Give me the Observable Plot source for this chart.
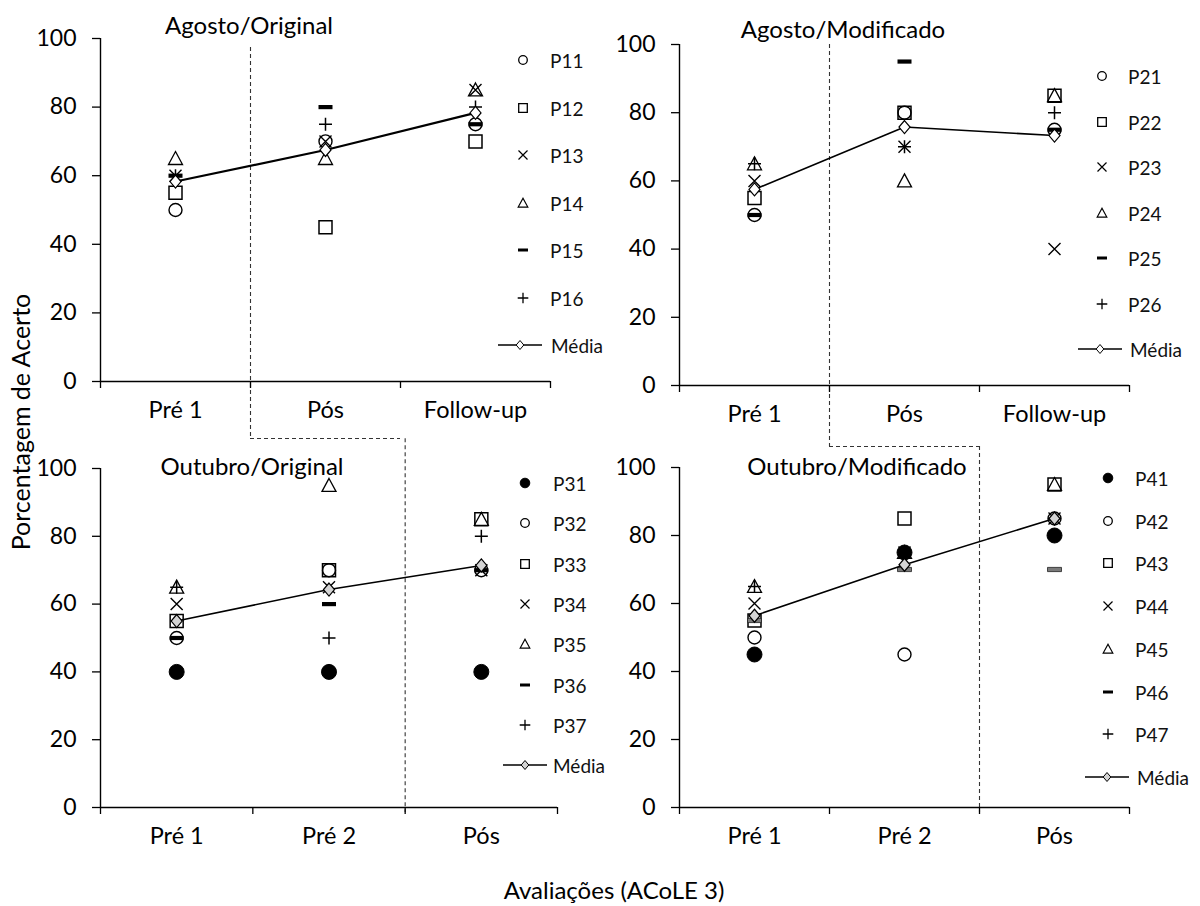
<!DOCTYPE html>
<html><head><meta charset="utf-8">
<script src="https://cdn.jsdelivr.net/npm/d3@7"></script>
<script src="https://cdn.jsdelivr.net/npm/@observablehq/plot@0.6"></script>
<style>
body{margin:0;background:#fff;}
#chart{position:relative;width:1200px;height:906px;background:#fff;font-family:Lato,"Open Sans",sans-serif;color:#000;overflow:hidden}
.panel{position:absolute}
.title{position:absolute;font-size:24px;white-space:nowrap;transform:translate(-50%,-50%);line-height:1}
.legtxt{position:absolute;font-size:19px;white-space:nowrap;line-height:1;transform:translateY(-50%);color:#111}
.axtitle{position:absolute;font-size:24px;white-space:nowrap;line-height:1;transform:translate(-50%,-50%)}
</style></head><body><div id="chart"></div>
<script>
// ---------------- DATA ----------------
const agostoCats = ["Pré 1", "Pós", "Follow-up"];
const outubroCats = ["Pré 1", "Pré 2", "Pós"];
const yTicks = [0, 20, 40, 60, 80, 100];

const agostoOriginal = {P11:[50,70,75], P12:[55,45,70], P13:[60,70,85], P14:[65,65,85], P15:[60,80,75], P16:[60,75,80]};
const agostoOriginalMedia = [58.3, 67.5, 78.3];

const agostoModificado = {P21:[50,80,75], P22:[55,80,85], P23:[60,70,40], P24:[65,60,85], P25:[50,95,75], P26:[65,70,80]};
const agostoModificadoMedia = [57.5, 75.8, 73.3];

const outubroOriginal = {P31:[40,40,40], P32:[50,70,70], P33:[55,70,85], P34:[60,65,70], P35:[65,95,85], P36:[50,60,70], P37:[65,50,80]};
const outubroOriginalMedia = [55.0, 64.3, 71.4];

const outubroModificado = {P41:[45,75,80], P42:[50,45,85], P43:[55,85,95], P44:[60,75,85], P45:[65,75,95], P46:[55,70,70], P47:[65,75,85]};
const outubroModificadoMedia = [56.4, 71.4, 85.0];

const agostoKinds = ["circle","square","times","triangle","dash","plus"];
const outubroKinds = ["filled","circle","square","times","triangle","dash","plus"];

// phase-change line (between categories), extended beyond the panel
const phaseAgostoOriginal = {x: 0.5, yTop: 97.4, yBottom: -16.6, xEnd: 1.5};
const phaseOutubroOriginal = {x: 1.5, yTop: 108.8, yBottom: -1.5};
const phaseAgostoModificado = {x: 0.5, yTop: 100, yBottom: -17.9, xEnd: 1.5};
const phaseOutubroModificado = {x: 1.5, yTop: 106.2, yBottom: -1.5};

// ---------------- SYMBOLS ----------------
const R = s => Math.sqrt(s / Math.PI);
const sym = {
  circle: {draw(c, s){const r=R(s); c.moveTo(r,0); c.arc(0,0,r,0,2*Math.PI);}},
  square: {draw(c, s){const r=R(s); c.rect(-r,-r,2*r,2*r);}},
  times: {draw(c, s){const r=R(s); c.moveTo(-r,-r); c.lineTo(r,r); c.moveTo(-r,r); c.lineTo(r,-r);}},
  triangle: {draw(c, s){const r=R(s); c.moveTo(0,-r); c.lineTo(r,r*0.85); c.lineTo(-r,r*0.85); c.closePath();}},
  dash: {draw(c, s){const r=R(s), h=r*0.3; c.rect(-r,-h,2*r,2*h);}},
  plus: {draw(c, s){const r=R(s); c.moveTo(-r,0); c.lineTo(r,0); c.moveTo(0,-r); c.lineTo(0,r);}},
  diamond: {draw(c, s){const r=R(s); c.moveTo(0,-r); c.lineTo(r*0.85,0); c.lineTo(0,r); c.lineTo(-r*0.85,0); c.closePath();}}
};
const kindStyle = {
  filled:   {symbol: sym.circle,   r: 7.5, fill: "#000", stroke: "#000", strokeWidth: 1},
  circle:   {symbol: sym.circle,   r: 6.5, fill: "none", stroke: "#000", strokeWidth: 1.4},
  square:   {symbol: sym.square,   r: 6.5, fill: "none", stroke: "#000", strokeWidth: 1.5},
  times:    {symbol: sym.times,    r: 6,   fill: "none", stroke: "#000", strokeWidth: 1.4},
  triangle: {symbol: sym.triangle, r: 7,   fill: "none", stroke: "#000", strokeWidth: 1.3},
  dash:     {symbol: sym.dash,     r: 7,   fill: "#000", stroke: "none", strokeWidth: 0},
  plus:     {symbol: sym.plus,     r: 6.5, fill: "none", stroke: "#000", strokeWidth: 1.5}
};
const legendStyle = {
  filled: {r: 4.8, fill: "#000", stroke: "#000", sw: 1},
  circle: {r: 4.3, fill: "none", stroke: "#000", sw: 1.3},
  square: {r: 4.3, fill: "none", stroke: "#000", sw: 1.3},
  times: {r: 4.5, fill: "none", stroke: "#000", sw: 1.2},
  triangle: {r: 4.8, fill: "none", stroke: "#000", sw: 1.2},
  dash: {r: 5, fill: "#000", stroke: "none", sw: 0},
  plus: {r: 5.3, fill: "none", stroke: "#000", sw: 1.3}
};
function symPath(s, r){ const p = d3.path(); s.draw(p, r*r*Math.PI); return p.toString(); }

// ---------------- PANELS ----------------
const panels = [
  {cats: agostoCats, series: agostoOriginal, kinds: agostoKinds, media: agostoOriginalMedia, mediaFill: "#fff", meanW: 2.2,
   phase: phaseAgostoOriginal, left: 0, top: 0, plotH: 343, rangeW: 450,
   title: "Agosto/Original", tx: 249, ty: 25,
   leg: {symX: 523, textX: 550, y0: 60, step: 47.5, mX: 520, mText: 551}},
  {cats: agostoCats, series: agostoModificado, kinds: agostoKinds, media: agostoModificadoMedia, mediaFill: "#fff", meanW: 1.6,
   phase: phaseAgostoModificado, left: 579, top: 6, plotH: 341, rangeW: 450,
   title: "Agosto/Modificado", tx: 843, ty: 29,
   leg: {symX: 1102, textX: 1128, y0: 76, step: 45.5, mX: 1100, mText: 1130}},
  {cats: outubroCats, series: outubroOriginal, kinds: outubroKinds, media: outubroOriginalMedia, mediaFill: "#d4d4d4", meanW: 1.6,
   phase: phaseOutubroOriginal, left: 0, top: 430, plotH: 339, rangeW: 457,
   title: "Outubro/Original", tx: 252, ty: 466,
   leg: {symX: 525, textX: 553, y0: 483, step: 40.3, mX: 525, mText: 553}},
  {cats: outubroCats, series: outubroModificado, kinds: outubroKinds, media: outubroModificadoMedia, mediaFill: "#d4d4d4", meanW: 1.6,
   phase: phaseOutubroModificado, left: 579, top: 429, plotH: 340, rangeW: 450, dashFill: "#7a7a7a",
   title: "Outubro/Modificado", tx: 857, ty: 466,
   leg: {symX: 1108, textX: 1135, y0: 478, step: 42.7, mX: 1107, mText: 1137}}
];

const chart = document.getElementById("chart");
const mL = 100, mT = 38, mB = 72;

panels.forEach(p => {
  const names = Object.keys(p.series);
  const dotMarks = names.map((name, k) => {
    const st = kindStyle[p.kinds[k]];
    const rows = p.series[name].map((v, i) => ({i, v, serie: name}));
    let fill = st.fill, stroke = st.stroke, sw = st.strokeWidth;
    if (p.kinds[k] === "dash" && p.dashFill) { fill = p.dashFill; stroke = "#222"; sw = 0.8; }
    return Plot.dot(rows, {x: "i", y: "v", symbol: st.symbol, r: st.r, fill, stroke, strokeWidth: sw});
  });
  const mediaRows = p.media.map((v, i) => ({i, v}));
  const ph = p.phase;
  const phaseMarks = [
    Plot.ruleX([ph.x], {y1: ph.yTop, y2: ph.yBottom, stroke: "#333", strokeWidth: 1.1, strokeDasharray: "4,3"})
  ];
  if (ph.xEnd != null) phaseMarks.push(Plot.ruleY([ph.yBottom], {x1: ph.x, x2: ph.xEnd, stroke: "#333", strokeWidth: 1.1, strokeDasharray: "4,3"}));

  const width = mL + p.rangeW + 50;
  const svg = Plot.plot({
    width, height: p.plotH + mT + mB,
    marginLeft: mL, marginRight: 50, marginTop: mT, marginBottom: mB,
    x: {domain: [-0.5, 2.5], axis: null},
    y: {domain: [0, 100], axis: null},
    style: {fontFamily: "Lato, 'Open Sans', sans-serif", fontSize: "23px", background: "transparent", overflow: "visible", color: "#000"},
    marks: [
      ...phaseMarks,
      Plot.ruleX([-0.5], {stroke: "#000", strokeWidth: 1.4}),
      Plot.ruleY([0], {stroke: "#000", strokeWidth: 1.4}),
      Plot.axisY({ticks: yTicks, label: null, tickSize: 8, tickPadding: 16, stroke: "#000", strokeWidth: 1.3, fill: "#000", fontSize: 23}),
      Plot.axisX({ticks: [-0.5, 0.5, 1.5, 2.5], label: null, tickSize: 7, tickFormat: () => "", stroke: "#000", strokeWidth: 1.3}),
      Plot.axisX({ticks: [0, 1, 2], label: null, tickSize: 0, tickPadding: 20, tickFormat: i => p.cats[i], fill: "#000", fontSize: 23.5}),
      ...dotMarks,
      Plot.line(mediaRows, {x: "i", y: "v", stroke: "#000", strokeWidth: p.meanW}),
      Plot.dot(mediaRows, {x: "i", y: "v", symbol: sym.diamond, r: 6.5, fill: p.mediaFill, stroke: "#000", strokeWidth: 1.2})
    ]
  });
  const wrap = document.createElement("div");
  wrap.className = "panel";
  wrap.style.left = p.left + "px";
  wrap.style.top = p.top + "px";
  wrap.appendChild(svg);
  chart.appendChild(wrap);

  // title
  const t = document.createElement("div");
  t.className = "title";
  t.style.left = p.tx + "px"; t.style.top = p.ty + "px";
  t.textContent = p.title;
  chart.appendChild(t);

  // legend
  const L = p.leg;
  names.forEach((name, k) => {
    const y = L.y0 + k * L.step;
    const ls = legendStyle[p.kinds[k]];
    const s = document.createElementNS("http://www.w3.org/2000/svg", "svg");
    s.setAttribute("width", 24); s.setAttribute("height", 24);
    s.style.position = "absolute"; s.style.left = (L.symX - 12) + "px"; s.style.top = (y - 12) + "px"; s.style.overflow = "visible";
    const path = document.createElementNS("http://www.w3.org/2000/svg", "path");
    path.setAttribute("d", symPath(sym[p.kinds[k] === "filled" ? "circle" : p.kinds[k]], ls.r));
    path.setAttribute("transform", "translate(12,12)");
    path.setAttribute("fill", ls.fill); path.setAttribute("stroke", ls.stroke); path.setAttribute("stroke-width", ls.sw);
    s.appendChild(path);
    chart.appendChild(s);
    const tx = document.createElement("div");
    tx.className = "legtxt"; tx.style.left = L.textX + "px"; tx.style.top = y + "px"; tx.textContent = name;
    chart.appendChild(tx);
  });
  const ym = L.y0 + names.length * L.step;
  const ms = document.createElementNS("http://www.w3.org/2000/svg", "svg");
  ms.setAttribute("width", 50); ms.setAttribute("height", 24);
  ms.style.position = "absolute"; ms.style.left = (L.mX - 25) + "px"; ms.style.top = (ym - 12) + "px"; ms.style.overflow = "visible";
  ms.innerHTML = `<line x1="3" x2="47" y1="12" y2="12" stroke="#000" stroke-width="1.4"/>` +
    `<path d="${symPath(sym.diamond, 4.5)}" transform="translate(25,12)" fill="${p.mediaFill}" stroke="#000" stroke-width="1"/>`;
  chart.appendChild(ms);
  const mt = document.createElement("div");
  mt.className = "legtxt"; mt.style.left = L.mText + "px"; mt.style.top = ym + "px"; mt.textContent = "Média";
  chart.appendChild(mt);
});

// axis titles
const yt = document.createElement("div");
yt.className = "axtitle"; yt.style.left = "20px"; yt.style.top = "422px";
yt.style.fontSize = "25px";
yt.style.transform = "translate(-50%,-50%) rotate(-90deg)";
yt.textContent = "Porcentagem de Acerto";
chart.appendChild(yt);
const xt = document.createElement("div");
xt.className = "axtitle"; xt.style.left = "614px"; xt.style.top = "890px";
xt.textContent = "Avaliações (ACoLE 3)";
chart.appendChild(xt);
</script>
</body></html>
